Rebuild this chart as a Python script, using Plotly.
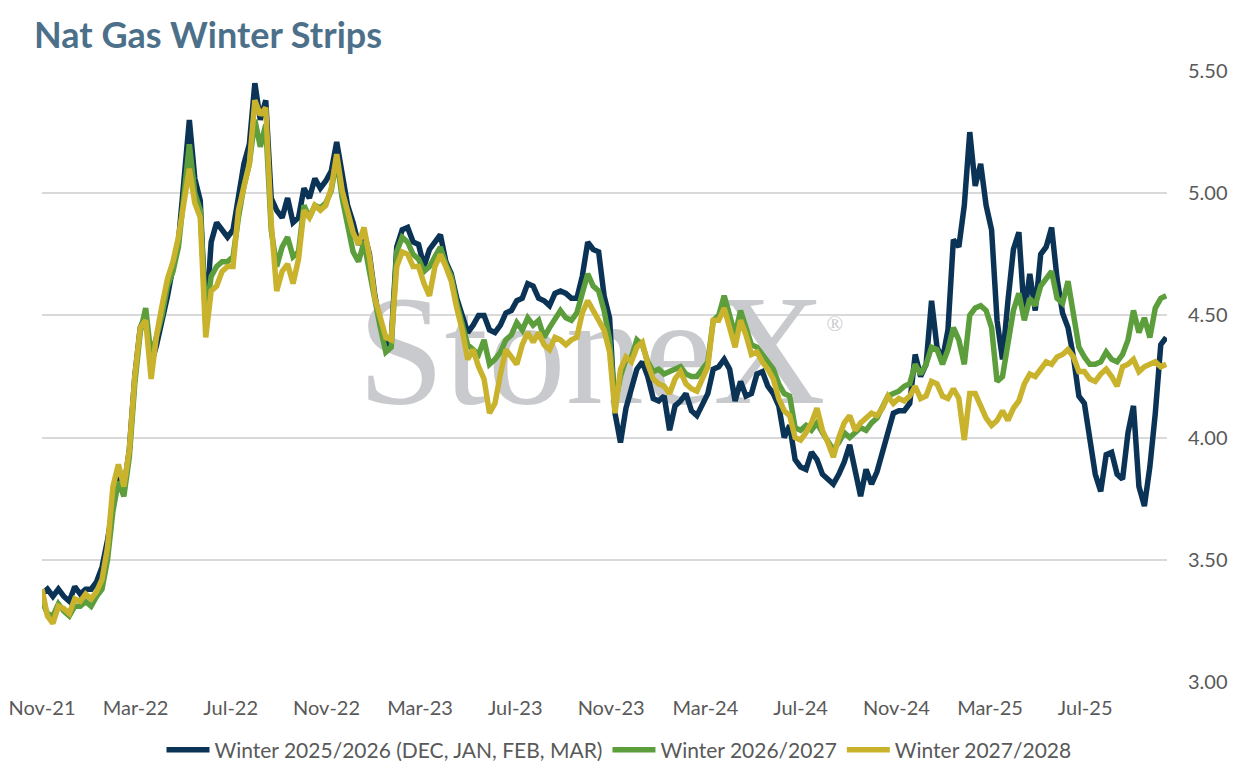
import pandas as pd
import plotly.graph_objects as go

# weekly settlements, starting 1 Nov 2021
start_date = "2021-11-01"

winter_25_26 = [
    3.36, 3.38, 3.35, 3.38, 3.35, 3.33, 3.39, 3.36, 3.38, 3.38,
    3.41, 3.47, 3.58, 3.72, 3.85, 3.79, 3.95, 4.25, 4.45, 4.50,
    4.30, 4.38, 4.47, 4.58, 4.70, 4.80, 5.05, 5.30, 5.06, 4.97,
    4.47, 4.80, 4.88, 4.85, 4.82, 4.85, 5.00, 5.12, 5.20, 5.45,
    5.30, 5.38, 4.98, 4.93, 4.90, 4.98, 4.88, 4.90, 5.02, 4.98,
    5.06, 5.02, 5.05, 5.09, 5.21, 5.09, 4.95, 4.88, 4.79, 4.84,
    4.75, 4.58, 4.46, 4.38, 4.40, 4.78, 4.85, 4.86, 4.80, 4.79,
    4.70, 4.77, 4.80, 4.83, 4.72, 4.67, 4.57, 4.49, 4.43, 4.46,
    4.50, 4.50, 4.44, 4.43, 4.46, 4.51, 4.52, 4.56, 4.57, 4.63,
    4.62, 4.57, 4.56, 4.54, 4.59, 4.60, 4.59, 4.57, 4.57, 4.66,
    4.80, 4.77, 4.76, 4.58, 4.49, 4.10, 3.98, 4.12, 4.20, 4.28,
    4.31, 4.25, 4.16, 4.15, 4.17, 4.03, 4.13, 4.15, 4.18, 4.11,
    4.09, 4.14, 4.18, 4.28, 4.29, 4.32, 4.28, 4.15, 4.23, 4.17,
    4.18, 4.26, 4.27, 4.21, 4.18, 4.13, 4.00, 4.05, 3.91, 3.88,
    3.87, 3.94, 3.91, 3.85, 3.83, 3.81, 3.85, 3.90, 3.97, 3.85,
    3.76, 3.87, 3.81, 3.86, 3.94, 4.04, 4.10, 4.11, 4.11, 4.14,
    4.34, 4.25, 4.30, 4.56, 4.37, 4.32, 4.44, 4.81, 4.78, 4.95,
    5.25, 5.03, 5.12, 4.95, 4.85, 4.48, 4.32, 4.56, 4.77, 4.84,
    4.50, 4.67, 4.52, 4.75, 4.78, 4.86, 4.65, 4.51, 4.45, 4.33,
    4.17, 4.14, 3.99, 3.85, 3.78, 3.93, 3.94, 3.85, 3.83, 4.02,
    4.13, 3.80, 3.72, 3.88, 4.10, 4.38, 4.41,
]

winter_26_27 = [
    3.33, 3.28, 3.27, 3.32, 3.29, 3.27, 3.31, 3.31, 3.33, 3.31,
    3.35, 3.38, 3.50, 3.70, 3.82, 3.76, 3.92, 4.22, 4.43, 4.53,
    4.33, 4.42, 4.50, 4.62, 4.68, 4.78, 5.00, 5.20, 5.00, 4.93,
    4.50, 4.66, 4.70, 4.72, 4.72, 4.74, 4.90, 5.03, 5.12, 5.30,
    5.19, 5.28, 4.85, 4.70, 4.78, 4.82, 4.74, 4.76, 4.95, 4.90,
    4.95, 4.94, 4.96, 5.01, 5.14, 4.98, 4.87, 4.76, 4.72, 4.80,
    4.68, 4.55, 4.45, 4.35, 4.37, 4.76, 4.82, 4.80, 4.75, 4.73,
    4.68, 4.70, 4.74, 4.78, 4.71, 4.66, 4.55, 4.46, 4.38, 4.36,
    4.34, 4.40, 4.30, 4.32, 4.35, 4.40, 4.42, 4.47, 4.44, 4.49,
    4.46, 4.48, 4.41, 4.45, 4.49, 4.52, 4.49, 4.48, 4.51, 4.59,
    4.67, 4.62, 4.60, 4.52, 4.40, 4.14, 4.25, 4.32, 4.33, 4.40,
    4.38, 4.31, 4.27, 4.28, 4.26, 4.27, 4.28, 4.29, 4.26, 4.25,
    4.25, 4.28, 4.31, 4.48, 4.50, 4.58, 4.50, 4.42, 4.52, 4.44,
    4.38, 4.37, 4.34, 4.31, 4.28, 4.22, 4.18, 4.17, 4.04, 4.03,
    4.05, 4.03, 4.06, 4.02, 3.98, 3.95, 3.98, 4.02, 4.00, 4.02,
    4.04, 4.03, 4.06, 4.08, 4.13, 4.17, 4.18, 4.19, 4.21, 4.22,
    4.30, 4.26, 4.30, 4.37, 4.36, 4.30, 4.36, 4.45, 4.40, 4.30,
    4.50, 4.53, 4.54, 4.52, 4.45, 4.23, 4.25, 4.37, 4.52, 4.59,
    4.48, 4.57, 4.54, 4.62, 4.65, 4.68, 4.57, 4.55, 4.64, 4.50,
    4.37, 4.33, 4.30, 4.30, 4.31, 4.35, 4.32, 4.31, 4.34, 4.40,
    4.52, 4.43, 4.49, 4.41, 4.53, 4.57, 4.58,
]

winter_27_28 = [
    3.38, 3.27, 3.24, 3.31, 3.30, 3.28, 3.34, 3.33, 3.36, 3.34,
    3.37, 3.42, 3.55, 3.80, 3.89, 3.80, 3.95, 4.25, 4.45, 4.48,
    4.24, 4.42, 4.54, 4.65, 4.72, 4.82, 4.96, 5.10, 4.96, 4.90,
    4.41, 4.60, 4.62, 4.68, 4.70, 4.70, 4.93, 5.02, 5.12, 5.38,
    5.32, 5.35, 4.88, 4.60, 4.68, 4.71, 4.63, 4.73, 4.93, 4.90,
    4.95, 4.93, 4.95, 5.02, 5.16, 5.01, 4.92, 4.84, 4.79, 4.86,
    4.74, 4.57, 4.49, 4.41, 4.40, 4.70, 4.76, 4.75, 4.70, 4.70,
    4.63, 4.58, 4.70, 4.75, 4.70, 4.64, 4.53, 4.44, 4.32, 4.36,
    4.29, 4.24, 4.10, 4.14, 4.26, 4.36, 4.33, 4.30, 4.38, 4.43,
    4.39, 4.43, 4.38, 4.36, 4.41, 4.40, 4.38, 4.40, 4.41, 4.51,
    4.56, 4.52, 4.49, 4.44, 4.35, 4.10, 4.28, 4.33, 4.31, 4.37,
    4.39, 4.30, 4.24, 4.22, 4.21, 4.18, 4.24, 4.27, 4.22, 4.20,
    4.19, 4.24, 4.29, 4.48, 4.48, 4.53, 4.45, 4.37, 4.48, 4.42,
    4.34, 4.35, 4.31, 4.28, 4.24, 4.16, 4.11, 4.09, 4.00, 3.99,
    4.02, 4.06, 4.12, 4.03, 3.98, 3.92, 4.00, 4.06, 4.09, 4.03,
    4.06, 4.08, 4.10, 4.09, 4.12, 4.17, 4.14, 4.16, 4.15, 4.17,
    4.21, 4.16, 4.17, 4.23, 4.22, 4.17, 4.16, 4.20, 4.16, 3.99,
    4.18, 4.18, 4.13, 4.08, 4.05, 4.07, 4.11, 4.07, 4.12, 4.15,
    4.22, 4.26, 4.25, 4.28, 4.31, 4.30, 4.33, 4.34, 4.36, 4.33,
    4.27, 4.27, 4.24, 4.23, 4.26, 4.28, 4.25, 4.21, 4.29, 4.30,
    4.32, 4.27, 4.29, 4.30, 4.31, 4.29, 4.30,
]

series_names = [
    "Winter 2025/2026 (DEC, JAN, FEB, MAR)",
    "Winter 2026/2027",
    "Winter 2027/2028",
]
series_colors = ["#0B3356", "#5C9E3C", "#C9B22C"]

dates = pd.date_range(start_date, periods=len(winter_25_26), freq="7D")

fig = go.Figure()

# StoneX watermark sits under the lines
fig.add_trace(go.Scatter(
    x=["2023-10-07", "2024-08-14"],
    y=[4.30, 4.46],
    mode="text",
    text=["StoneX", "®"],
    textfont=dict(family="Liberation Serif", size=[156, 22], color="#C9CACD"),
    showlegend=False,
    hoverinfo="skip",
))

for name, values, color in zip(series_names,
                               [winter_25_26, winter_26_27, winter_27_28],
                               series_colors):
    fig.add_trace(go.Scatter(
        x=dates, y=values, mode="lines", name=name,
        line=dict(color=color, width=5.5),
    ))

fig.update_layout(
    width=1238, height=775,
    paper_bgcolor="white", plot_bgcolor="white",
    margin=dict(l=42, r=71, t=71, b=93),
    font=dict(family="Lato", size=20, color="#595959"),
    title=dict(
        text="<b>Nat Gas Winter Strips</b>",
        font=dict(family="Lato", size=36, color="#4C7089"),
        x=34 / 1238, xref="container", xanchor="left",
        y=1 - 35 / 775, yref="container", yanchor="middle",
    ),
    legend=dict(
        orientation="h", x=619 / 1238, xref="container", xanchor="center",
        y=1 - 750 / 775, yref="container", yanchor="middle",
        itemwidth=43,
        font=dict(size=21, color="#595959"),
    ),
    showlegend=True,
)

fig.update_xaxes(
    type="date",
    range=["2021-11-01", "2025-10-14"],
    tick0="2021-11-01", dtick="M4", tickformat="%b-%y",
    showgrid=False, zeroline=False, showline=False, automargin=False,
    ticks="outside", ticklen=8, tickcolor="rgba(0,0,0,0)",
)
fig.update_yaxes(
    side="right",
    range=[3.0, 5.5],
    tickvals=[3.0, 3.5, 4.0, 4.5, 5.0, 5.5],
    tickformat=".2f",
    showgrid=True, gridcolor="#D9D9D9", gridwidth=1.5,
    zeroline=False, showline=False, automargin=False,
    ticks="outside", ticklen=16, tickcolor="rgba(0,0,0,0)",
)

fig.write_html(
    "out.html",
    config={"displayModeBar": False},
    post_script="document.body.style.margin='0';",
)
